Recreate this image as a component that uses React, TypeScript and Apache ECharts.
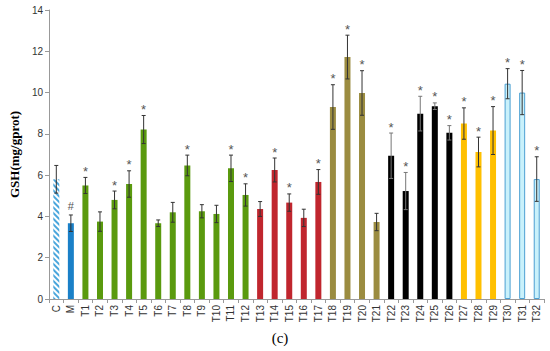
import React, { useEffect, useRef } from "react";
import * as echarts from "echarts";

const categories = ["C", "M", "T1", "T2", "T3", "T4", "T5", "T6", "T7", "T8", "T9", "T10", "T11", "T12", "T13", "T14", "T15", "T16", "T17", "T18", "T19", "T20", "T21", "T22", "T23", "T24", "T25", "T26", "T27", "T28", "T29", "T30", "T31", "T32"];
const values = [5.8, 3.67, 5.5, 3.75, 4.8, 5.57, 8.21, 3.67, 4.2, 6.47, 4.25, 4.12, 6.33, 5.04, 4.36, 6.25, 4.67, 3.93, 5.67, 9.3, 11.72, 9.98, 3.73, 6.94, 5.23, 8.98, 9.34, 8.05, 8.5, 7.12, 8.16, 10.43, 10.0, 5.81];
const errors = [0.67, 0.4, 0.39, 0.47, 0.43, 0.64, 0.68, 0.16, 0.48, 0.5, 0.32, 0.42, 0.64, 0.54, 0.36, 0.58, 0.42, 0.42, 0.6, 1.08, 1.06, 1.08, 0.42, 1.1, 0.9, 0.84, 0.16, 0.35, 0.76, 0.72, 1.16, 0.73, 1.07, 1.08];
const marks = ["", "#", "*", "", "*", "*", "*", "", "", "*", "", "", "*", "*", "", "*", "*", "", "*", "*", "*", "*", "", "*", "*", "*", "*", "*", "*", "*", "*", "*", "*", "*"];
const groups = ["C", "M", "G", "G", "G", "G", "G", "G", "G", "G", "G", "G", "G", "G", "R", "R", "R", "R", "R", "O", "O", "O", "O", "K", "K", "K", "K", "K", "Y", "Y", "Y", "B", "B", "B"];
const yTicks = [0, 2, 4, 6, 8, 10, 12, 14];

const groupStyle: Record<string, any> = {
  C: {
    color: "#ffffff",
    decal: {
      symbol: "rect",
      color: "#4aa6dc",
      dashArrayX: [1, 0],
      dashArrayY: [1.2, 1.3],
      rotation: Math.PI / 4,
      symbolSize: 1,
    },
  },
  M: { color: "#1a80c8" },
  G: { color: "#5a9a0e" },
  R: { color: "#c0262e" },
  O: { color: "#9b8c40" },
  K: { color: "#000000" },
  Y: { color: "#ffc000" },
  B: { color: "#c9f1fb", borderColor: "#4c9fd2", borderWidth: 1 },
};

export default function App() {
  const ref = useRef<HTMLDivElement>(null);
  useEffect(() => {
    if (!ref.current) return;
    const chart = echarts.init(ref.current, null, { renderer: "svg" });
    const barData = values.map((v, i) => ({ value: v, itemStyle: groupStyle[groups[i]] }));
    const errData = values.map((v, i) => [i, v, errors[i], marks[i]]);
    chart.setOption({
      animation: false,
      aria: { enabled: true, decal: { show: false } },
      grid: { left: 31, right: 6, top: 10, bottom: 52 },
      xAxis: {
        type: "category",
        data: categories,
        axisLine: { lineStyle: { color: "#999" } },
        axisTick: { show: true, length: 4, lineStyle: { color: "#999" } },
        axisLabel: { interval: 0, rotate: 90, fontSize: 10, color: "#333", fontFamily: "Liberation Sans, Arial", margin: 6 },
      },
      yAxis: {
        type: "value",
        min: yTicks[0],
        max: yTicks[yTicks.length - 1],
        interval: 2,
        name: "GSH(mg/gprot)",
        nameLocation: "middle",
        nameGap: 19,
        nameTextStyle: { fontFamily: "Liberation Serif, Times New Roman, serif", fontWeight: "bold", fontSize: 13, color: "#000" },
        axisLine: { show: true, lineStyle: { color: "#999" } },
        axisTick: { show: true, length: 4, lineStyle: { color: "#999" } },
        splitLine: { show: false },
        axisLabel: { fontSize: 10, color: "#333", fontFamily: "Liberation Sans, Arial", margin: 6 },
      },
      series: [
        {
          type: "bar",
          data: barData,
          barWidth: 6,
        },
        {
          type: "custom",
          data: errData,
          z: 10,
          renderItem: (params: any, api: any) => {
            const i = api.value(0);
            const v = api.value(1);
            const e = api.value(2);
            const m = errData[params.dataIndex][3] as string;
            const top = api.coord([i, v + e]);
            const bot = api.coord([i, v - e]);
            const x = top[0];
            const cap = 2;
            const isBlack = groups[params.dataIndex] === "K";
            const stroke = isBlack ? "#777" : "#333";
            const children: any[] = [
              { type: "line", shape: { x1: x, y1: top[1], x2: x, y2: bot[1] }, style: { stroke, lineWidth: 1 } },
              { type: "line", shape: { x1: x - cap, y1: top[1], x2: x + cap, y2: top[1] }, style: { stroke, lineWidth: 1 } },
              { type: "line", shape: { x1: x - cap, y1: bot[1], x2: x + cap, y2: bot[1] }, style: { stroke, lineWidth: 1 } },
            ];
            if (m) {
              children.push({
                type: "text",
                x: x,
                y: top[1] - (m === "#" ? 9 : 6),
                style: {
                  text: m,
                  align: "center",
                  verticalAlign: "middle",
                  fontSize: m === "#" ? 11 : 13,
                  fill: "#555",
                  fontFamily: "Liberation Sans, Arial",
                },
              });
            }
            return { type: "group", children };
          },
        },
      ],
      graphic: [
        {
          type: "text",
          x: 280,
          y: 338,
          style: { text: "(c)", fontSize: 15, align: "center", verticalAlign: "middle", fontFamily: "Liberation Serif, Times New Roman, serif", fill: "#000" },
        },
      ],
    });
    return () => chart.dispose();
  }, []);
  return <div ref={ref} style={{ width: 550, height: 351, position: "absolute", left: 0, top: 0 }} />;
}
